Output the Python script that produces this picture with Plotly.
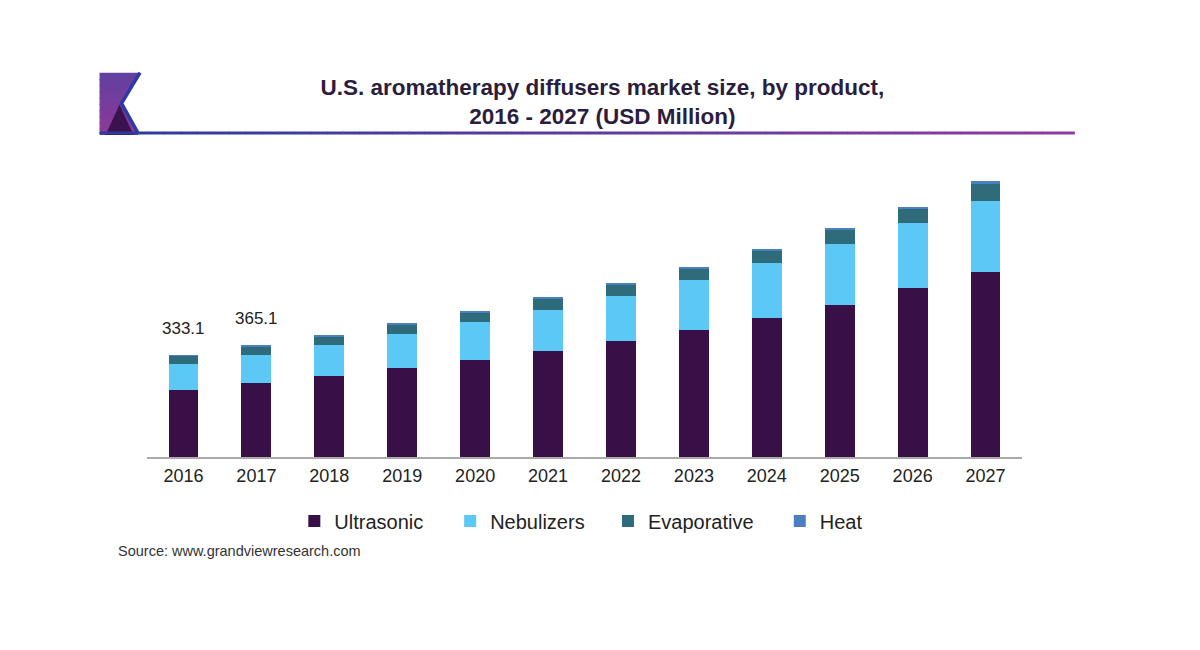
import plotly.graph_objects as go

# ---------------- data ----------------
years = ["2016", "2017", "2018", "2019", "2020", "2021", "2022", "2023", "2024", "2025", "2026", "2027"]
ultrasonic = [219, 241, 265, 290, 316, 347, 380, 415, 453, 496, 551, 606]
nebulizers = [84, 93, 101, 111, 124, 133, 146, 164, 182, 200, 214, 232]
evaporative = [27.1, 28, 27, 31, 31, 38, 39, 36, 41, 46, 44, 54]
heat = [3, 3.1, 3.5, 4, 4, 4.5, 4.5, 4.5, 5, 5.5, 9, 10]
labeled_years = ["2016", "2017"]
labeled_totals = ["333.1", "365.1"]

title_text = "U.S. aromatherapy diffusers market size, by product,<br>2016 - 2027 (USD Million)"
source_text = "Source: www.grandviewresearch.com"

# ---------------- layout geometry ----------------
W, H = 1200, 650
L, R, T, B = 146.5, 177.5, 151, 193
PW, PH = W - L - R, H - T - B
FONT = "Liberation Sans, Arial, sans-serif"

def px(x):
    return (x - L) / PW

def py(y):
    return (H - B - y) / PH

series = [
    ("Ultrasonic", ultrasonic, "#380f47"),
    ("Nebulizers", nebulizers, "#5bc8f5"),
    ("Evaporative", evaporative, "#2e6c7c"),
    ("Heat", heat, "#4a7fc1"),
]
legend_names = ["legend", "legend2", "legend3", "legend4"]
legend_sq_x = [314, 470, 628, 800]

fig = go.Figure()
for (name, vals, col), lg in zip(series, legend_names):
    fig.add_trace(go.Bar(
        x=years, y=vals, name=name, legend=lg,
        marker=dict(color=col, line=dict(width=0)),
        hoverinfo="x+y+name",
    ))

totals = [u + n + e + h for u, n, e, h in zip(ultrasonic, nebulizers, evaporative, heat)]
annotations = []
for yr, lab in zip(labeled_years, labeled_totals):
    i = years.index(yr)
    annotations.append(dict(
        x=i, y=totals[i], xref="x", yref="y", text=lab, showarrow=False,
        yanchor="bottom", yshift=15, font=dict(family=FONT, size=17, color="#222222"),
    ))
annotations.append(dict(
    x=px(115), y=py(551), xref="paper", yref="paper", text=source_text, showarrow=False,
    xanchor="left", yanchor="middle", font=dict(family=FONT, size=14.5, color="#333333"),
))

# ---------------- decorative shapes (logo + gradient rule) ----------------
shapes = []

def poly(points, color):
    d = "M " + " L ".join(f"{px(a):.5f},{py(b):.5f}" for a, b in points) + " Z"
    return dict(type="path", path=d, xref="paper", yref="paper",
                fillcolor=color, line=dict(width=0), layer="above")

def xr(y):
    if y <= 103.3:
        return 138.3 + (121 - 138.3) * (y - 72.7) / (103.3 - 72.7)
    return 121 + (136.7 - 121) * (y - 103.3) / (132.7 - 103.3)

# purple gradient block (approximated by overlapping horizontal bands)
n_bands = 10
y0, y1 = 72.7, 135
for k in range(n_bands):
    ya = y0 + (y1 - y0) * k / n_bands
    yb = min(y1, y0 + (y1 - y0) * (k + 1) / n_bands + 1.2)
    t = k / (n_bands - 1)
    r = int(0x64 + (0x8c - 0x64) * t)
    g = int(0x40 + (0x3a - 0x40) * t)
    b_ = int(0xa0 + (0x98 - 0xa0) * t)
    shapes.append(poly([(99, ya), (xr(ya), ya), (xr(yb), yb), (99, yb)],
                       f"rgb({r},{g},{b_})"))
# dark triangle
shapes.append(poly([(105, 135), (119, 104.5), (133, 135)], "#3b1250"))
# blue K stroke
shapes.append(dict(type="path",
                   path=f"M {px(139.5):.5f},{py(72.7):.5f} L {px(121):.5f},{py(103.3):.5f} L {px(137.5):.5f},{py(133):.5f}",
                   xref="paper", yref="paper", line=dict(color="#2d3aa6", width=3.5), layer="above"))

# gradient horizontal rule under title
n_seg = 60
x_start, x_end, y_rule = 99, 1075, 133
c0, c1 = (0x2c, 0x3b, 0x9e), (0x8f, 0x3c, 0xa0)
for k in range(n_seg):
    xa = x_start + (x_end - x_start) * k / n_seg
    xb = x_start + (x_end - x_start) * (k + 1) / n_seg
    t = k / (n_seg - 1)
    c = tuple(int(c0[j] + (c1[j] - c0[j]) * t) for j in range(3))
    shapes.append(dict(type="line", xref="paper", yref="paper",
                       x0=px(xa), x1=px(xb) + 0.0005, y0=py(y_rule), y1=py(y_rule),
                       line=dict(color=f"rgb{c}", width=3), layer="above"))

layout_legends = {}
for lg, sx in zip(legend_names, legend_sq_x):
    layout_legends[lg] = dict(
        x=px(sx - 20), y=py(521), xanchor="left", yanchor="middle",
        orientation="h", bgcolor="rgba(0,0,0,0)", borderwidth=0,
        font=dict(family=FONT, size=20, color="#222222"),
        itemclick=False, itemdoubleclick=False,
    )

fig.update_layout(
    width=W, height=H,
    margin=dict(l=L, r=R, t=T, b=B, autoexpand=False),
    paper_bgcolor="white", plot_bgcolor="white",
    barmode="stack", bargap=0.59,
    font=dict(family=FONT, color="#222222"),
    title=dict(text=title_text, x=0.502, xref="container", xanchor="center",
               y=1 - 95 / H, yref="container", yanchor="middle",
               font=dict(family=FONT, size=22.5, color="#2b1d3d", weight="bold")),
    xaxis=dict(type="category", range=[-0.5, 11.5], showline=True, linecolor="#aaaaaa",
               linewidth=1.5, showgrid=False, zeroline=False, ticks="",
               tickfont=dict(family=FONT, size=18, color="#222222"), ticklabelstandoff=2,
               fixedrange=True),
    yaxis=dict(range=[0, 1000], visible=False, showgrid=False, zeroline=False, fixedrange=True),
    annotations=annotations,
    shapes=shapes,
    showlegend=True,
    **layout_legends,
)

fig.write_html("out.html")
